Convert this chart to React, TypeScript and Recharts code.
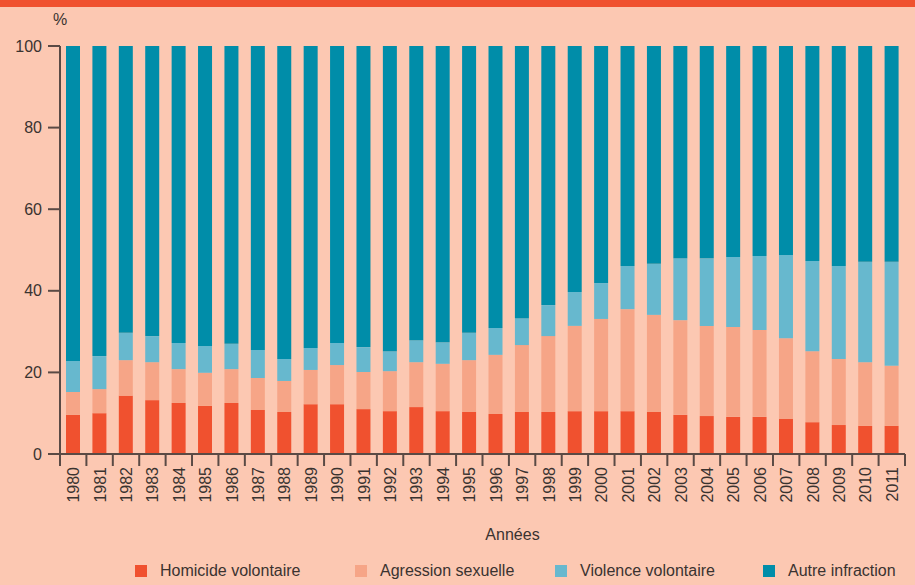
import React from 'react';
import { BarChart, Bar, XAxis, YAxis, Legend } from 'recharts';

const years = ['1980','1981','1982','1983','1984','1985','1986','1987','1988','1989','1990','1991','1992','1993','1994','1995','1996','1997','1998','1999','2000','2001','2002','2003','2004','2005','2006','2007','2008','2009','2010','2011'];
const homicide = [9.6,10.0,14.3,13.2,12.5,11.8,12.5,10.8,10.3,12.2,12.2,11.0,10.5,11.5,10.5,10.3,9.8,10.3,10.3,10.5,10.5,10.5,10.3,9.6,9.3,9.1,9.1,8.6,7.8,7.1,6.9,6.9];
const agression = [5.6,5.9,8.7,9.3,8.3,8.1,8.3,7.8,7.6,8.4,9.6,9.1,9.8,11.0,11.6,12.7,14.5,16.4,18.6,20.9,22.6,25.0,23.8,23.2,22.1,22.0,21.3,19.8,17.4,16.2,15.6,14.7];
const violence = [7.6,8.1,6.7,6.4,6.4,6.6,6.2,6.9,5.4,5.4,5.4,6.1,4.9,5.4,5.3,6.7,6.6,6.6,7.6,8.3,8.8,10.6,12.5,15.2,16.6,17.2,18.1,20.4,22.1,22.8,24.6,25.5];
const autre = [77.2,76.0,70.3,71.1,72.8,73.5,73.0,74.5,76.7,74.0,72.8,73.8,74.8,72.1,72.6,70.3,69.1,66.7,63.5,60.3,58.1,53.9,53.4,52.0,52.0,51.7,51.5,51.2,52.7,53.9,52.9,52.9];
const yTicks = [0, 20, 40, 60, 80, 100];

const seriesNames = ['Homicide volontaire', 'Agression sexuelle', 'Violence volontaire', 'Autre infraction'];
const colors = ['#F0512F', '#F6A587', '#67B8CE', '#008DA9'];

const data = years.map((y, i) => ({
  year: y,
  homicide: homicide[i],
  agression: agression[i],
  violence: violence[i],
  autre: autre[i],
}));

const W = 915;
const H = 585;
const LEG_H = 24;
const M = { top: 46, right: 10, left: 0, bottom: 71 - LEG_H };
const Y_W = 60;
const plotW = W - M.left - M.right - Y_W;
const halfBand = plotW / years.length / 2;
const AXIS = '#5a4a45';
const TEXT = '#3a3330';
const FONT = '"Liberation Sans", Arial, sans-serif';

const XTick = (props: any) => {
  const { x, y, payload, index, visibleTicksCount } = props;
  const last = index === visibleTicksCount - 1;
  return (
    <g>
      <line x1={x - halfBand} x2={x - halfBand} y1={y} y2={y + 12} stroke={AXIS} strokeWidth={2} />
      {last && <line x1={x + halfBand} x2={x + halfBand} y1={y} y2={y + 12} stroke={AXIS} strokeWidth={2} />}
      <text
        x={0}
        y={0}
        transform={`translate(${x + 6}, ${y + 13}) rotate(-90)`}
        textAnchor="end"
        fill={TEXT}
        fontSize={16}
        fontFamily={FONT}
      >
        {payload.value}
      </text>
    </g>
  );
};

const LegendContent = (props: any) => {
  const items = [...(props.payload || [])].sort(
    (a: any, b: any) => seriesNames.indexOf(a.value) - seriesNames.indexOf(b.value)
  );
  const xs = [135, 355, 555, 763];
  return (
    <svg width={W} height={LEG_H} style={{ display: 'block' }}>
      {items.map((p: any, i: number) => (
        <g key={i}>
          <rect x={xs[i]} y={6} width={12} height={12} fill={p.color} />
          <text x={xs[i] + 25} y={17} fontSize={16} fill={TEXT} fontFamily={FONT}>{p.value}</text>
        </g>
      ))}
    </svg>
  );
};

export default function App() {
  return (
    <div style={{ position: 'fixed', left: 0, top: 0, width: W, height: H, background: '#FCC8B2', overflow: 'hidden' }}>
      <div style={{ position: 'absolute', left: 0, top: 0, width: W, height: 7, background: '#F0512F' }} />
      <BarChart width={W} height={H} data={data} margin={M} barSize={14}>
        <YAxis
          width={Y_W}
          domain={[0, 100]}
          ticks={yTicks}
          allowDataOverflow
          interval={0}
          tickSize={12}
          tickMargin={6}
          axisLine={{ stroke: AXIS, strokeWidth: 2 }}
          tickLine={{ stroke: AXIS, strokeWidth: 2 }}
          tick={{ fill: TEXT, fontSize: 16, fontFamily: FONT }}
          label={{ value: '%', position: 'top', dx: 30, dy: -16, fill: TEXT, fontSize: 16, fontFamily: FONT }}
        />
        <XAxis
          dataKey="year"
          height={60}
          interval={0}
          tickSize={0}
          tickMargin={0}
          tickLine={false}
          axisLine={{ stroke: AXIS, strokeWidth: 2 }}
          tick={<XTick />}
          label={{ value: 'Années', position: 'insideBottom', offset: -26, dx: 30, fill: TEXT, fontSize: 16, fontFamily: FONT }}
        />
        <Legend
          verticalAlign="bottom"
          content={<LegendContent />}
          wrapperStyle={{ left: 0, bottom: 2, width: W, height: LEG_H }}
        />
        <Bar dataKey="homicide" name={seriesNames[0]} stackId="a" fill={colors[0]} isAnimationActive={false} />
        <Bar dataKey="agression" name={seriesNames[1]} stackId="a" fill={colors[1]} isAnimationActive={false} />
        <Bar dataKey="violence" name={seriesNames[2]} stackId="a" fill={colors[2]} isAnimationActive={false} />
        <Bar dataKey="autre" name={seriesNames[3]} stackId="a" fill={colors[3]} isAnimationActive={false} />
      </BarChart>
    </div>
  );
}
